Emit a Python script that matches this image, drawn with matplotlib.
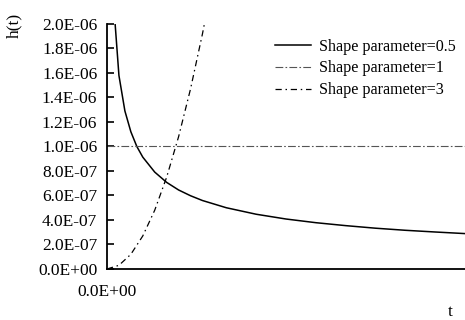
import matplotlib
matplotlib.use("Agg")
import matplotlib.pyplot as plt

plt.rcParams['font.family'] = ['Liberation Serif', 'DejaVu Serif']

# values (t in units of 1, h(t))
t_half = [0.05e6, 0.1e6, 0.15e6, 0.2e6, 0.25e6, 0.3e6, 0.4e6, 0.5e6, 0.6e6, 0.7e6, 0.8e6,
          1.0e6, 1.25e6, 1.5e6, 1.75e6, 2.0e6, 2.25e6, 2.5e6, 2.75e6, 3.0e6]
h_half = [2.24e-6, 1.58e-6, 1.29e-6, 1.12e-6, 1.00e-6, 0.913e-6, 0.791e-6, 0.707e-6, 0.645e-6,
          0.598e-6, 0.559e-6, 0.500e-6, 0.447e-6, 0.408e-6, 0.378e-6, 0.354e-6, 0.333e-6,
          0.316e-6, 0.302e-6, 0.289e-6]

t_one = [0.0, 3.0e6]
h_one = [1.0e-6, 1.0e-6]

t_three = [0.0, 0.1e6, 0.2e6, 0.3e6, 0.4e6, 0.5e6, 0.6e6, 0.7e6, 0.8e6, 0.85e6]
h_three = [0.0, 0.03e-6, 0.12e-6, 0.27e-6, 0.48e-6, 0.75e-6, 1.08e-6, 1.47e-6, 1.92e-6, 2.17e-6]

labels = ['Shape parameter=0.5', 'Shape parameter=1', 'Shape parameter=3']

fig = plt.figure(figsize=(4.65, 3.2), dpi=100)
ax = fig.add_axes([0.2301, 0.1594, 0.7699, 0.7656])

ax.plot(t_half, h_half, color='black', lw=1.1, label=labels[0])
ax.plot(t_one, h_one, color='#555555', lw=0.8, dashes=(7, 2, 1.5, 2), label=labels[1])
ax.plot(t_three, h_three, color='black', lw=0.9, dashes=(5, 3, 1.2, 3), label=labels[2])

ax.set_xlim(0, 3.0e6)
ax.set_ylim(0, 2.0e-6)

yt = [i * 0.2e-6 for i in range(11)]
ax.set_yticks(yt)
ax.set_yticklabels(['%.1E' % v for v in yt], fontsize=12.5)
ax.set_xticks([0])
ax.set_xticklabels(['0.0E+00'], fontsize=12.5)

ax.tick_params(axis='y', direction='in', length=5, width=1.2, pad=7)
ax.tick_params(axis='x', length=0, pad=11)

for s in ['top', 'right']:
    ax.spines[s].set_visible(False)
for s in ['left', 'bottom']:
    ax.spines[s].set_linewidth(1.3)

fig.text(14 / 465, 1 - 25 / 320, 'h(t)', rotation=90, fontsize=12.5, ha='center', va='center')
fig.text(450 / 465, 1 - 312 / 320, 't', fontsize=12.5, ha='center', va='center')

ax.legend(loc='upper right', bbox_to_anchor=(1.0, 0.98), frameon=False, fontsize=11.6,
          handlelength=2.2, labelspacing=0.36, handletextpad=0.5, borderaxespad=0.2)

fig.savefig('out.png', dpi=100)
